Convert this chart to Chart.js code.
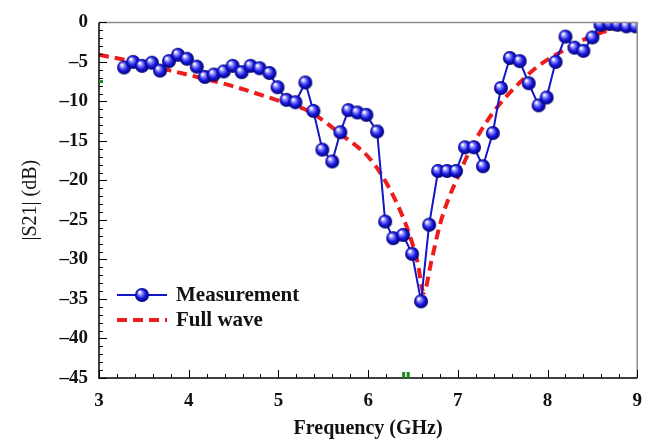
<!DOCTYPE html>
<html>
<head>
<meta charset="utf-8">
<script src="https://cdn.jsdelivr.net/npm/chart.js@4.4.1/dist/chart.umd.min.js"></script>
<style>
    html, body { margin: 0; padding: 0; background: #fff; }
    #wrap { width: 654px; height: 439px; }
</style>
</head>
<body>
<div id="wrap"><canvas id="s21-chart" width="654" height="439"></canvas></div>
<script>
// measured points (GHz, dB)
const measFreq = [3.28, 3.38, 3.48, 3.59, 3.68, 3.78, 3.88, 3.98, 4.09, 4.18,
    4.28, 4.39, 4.49, 4.59, 4.69, 4.79, 4.90, 4.99, 5.09, 5.19,
    5.30, 5.39, 5.49, 5.60, 5.69, 5.78, 5.88, 5.98, 6.10, 6.19,
    6.28, 6.39, 6.49, 6.59, 6.68, 6.78, 6.88, 6.98, 7.08, 7.18,
    7.28, 7.39, 7.48, 7.58, 7.69, 7.79, 7.90, 7.99, 8.09, 8.20,
    8.30, 8.40, 8.50, 8.59, 8.69, 8.78, 8.88, 8.98];
const measS21 = [-5.7, -5.0, -5.5, -5.1, -6.1, -4.9, -4.1, -4.6, -5.6, -6.9,
    -6.6, -6.2, -5.5, -6.3, -5.5, -5.8, -6.4, -8.2, -9.8, -10.1,
    -7.6, -11.2, -16.1, -17.6, -13.9, -11.1, -11.4, -11.7, -13.8, -25.2,
    -27.3, -26.9, -29.3, -35.3, -25.6, -18.8, -18.8, -18.8, -15.8, -15.8,
    -18.2, -14.0, -8.3, -4.5, -4.9, -7.7, -10.5, -9.5, -5.0, -1.8,
    -3.2, -3.6, -1.9, -0.3, -0.2, -0.3, -0.5, -0.5];

// full wave simulation
const simFreq = [3.0, 3.4, 3.8, 4.2, 4.5, 5.0, 5.35, 5.7, 6.0, 6.15,
    6.3, 6.45, 6.55, 6.62, 6.7, 6.8, 6.9, 7.0, 7.1, 7.2,
    7.4, 7.7, 7.9, 8.2, 8.5, 8.75, 9.0];
const simS21 = [-4.1, -5.0, -6.1, -7.2, -8.1, -9.9, -11.3, -14.2, -17.0, -19.3,
    -22.4, -26.5, -30.3, -34.2, -30.5, -25.6, -22.2, -19.6, -17.0, -14.8,
    -11.3, -7.5, -5.5, -3.4, -1.7, -0.8, -0.4];

const xTicks = [3, 4, 5, 6, 7, 8, 9];
const yTicks = [0, -5, -10, -15, -20, -25, -30, -35, -40, -45];

const serif = "'Liberation Serif', 'Times New Roman', serif";

function makeBall(r) {
    const c = document.createElement('canvas');
    c.width = c.height = r * 2 + 2;
    const g = c.getContext('2d');
    const cx = r + 1, cy = r + 1;
    const grad = g.createRadialGradient(cx - r * 0.35, cy - r * 0.4, r * 0.1, cx, cy, r);
    grad.addColorStop(0, '#ffffff');
    grad.addColorStop(0.25, '#8a8aff');
    grad.addColorStop(0.6, '#1a1ae0');
    grad.addColorStop(1, '#00006a');
    g.fillStyle = grad;
    g.beginPath();
    g.arc(cx, cy, r, 0, Math.PI * 2);
    g.fill();
    return c;
}
const ball = makeBall(7);

// inward ticks, frame, legend and the small green marks
const framePlugin = {
    id: 'frame',
    afterDraw(chart) {
        const ctx = chart.ctx;
        const a = chart.chartArea;
        const xs = chart.scales.x, ys = chart.scales.y;
        ctx.save();
        ctx.lineWidth = 1.5;
        ctx.strokeStyle = '#8c8c8c';
        ctx.beginPath();
        ctx.moveTo(a.left, a.top);
        ctx.lineTo(a.right, a.top);
        ctx.lineTo(a.right, a.bottom);
        ctx.stroke();

        ctx.strokeStyle = '#000';
        ctx.beginPath();
        ctx.moveTo(a.left, a.top);
        ctx.lineTo(a.left, a.bottom);
        ctx.lineTo(a.right, a.bottom);
        ctx.stroke();

        ctx.lineWidth = 1;
        ctx.beginPath();
        for (let v = 3; v <= 9.001; v += 0.2) {
            const px = Math.round(xs.getPixelForValue(v)) + 0.5;
            const major = Math.abs(v - Math.round(v)) < 0.01;
            ctx.moveTo(px, a.bottom);
            ctx.lineTo(px, a.bottom - (major ? 8 : 4));
        }
        for (let v = 0; v >= -45; v -= 1) {
            const py = Math.round(ys.getPixelForValue(v)) + 0.5;
            const major = v % 5 === 0;
            ctx.moveTo(a.left, py);
            ctx.lineTo(a.left + (major ? 8 : 4), py);
        }
        ctx.stroke();

        ctx.fillStyle = '#1a8a1a';
        ctx.fillRect(a.left, ys.getPixelForValue(-7.3), 4, 3);
        ctx.fillRect(xs.getPixelForValue(6.38), a.bottom - 6, 3, 6);
        ctx.fillRect(xs.getPixelForValue(6.43), a.bottom - 6, 3, 6);

        // legend
        const lx = 117, lx2 = 167;
        ctx.strokeStyle = '#1414c8';
        ctx.lineWidth = 2;
        ctx.beginPath();
        ctx.moveTo(lx, 295);
        ctx.lineTo(lx2, 295);
        ctx.stroke();
        ctx.drawImage(ball, (lx + lx2) / 2 - 8, 295 - 8);

        ctx.strokeStyle = '#ee1c1c';
        ctx.lineWidth = 4;
        ctx.setLineDash([10, 6]);
        ctx.beginPath();
        ctx.moveTo(lx, 320);
        ctx.lineTo(lx2, 320);
        ctx.stroke();
        ctx.setLineDash([]);

        ctx.fillStyle = '#111';
        ctx.font = 'bold 21px ' + serif;
        ctx.textBaseline = 'middle';
        ctx.fillText('Measurement', 176, 296);
        ctx.fillText('Full wave', 176, 321);
        ctx.restore();
    }
};

const measData = measFreq.map((f, i) => ({x: f, y: measS21[i]}));
const simData = simFreq.map((f, i) => ({x: f, y: simS21[i]}));

new Chart(document.getElementById('s21-chart'), {
    type: 'line',
    data: {
        datasets: [
            {
                label: 'Full wave',
                data: simData,
                borderColor: '#ee1c1c',
                borderWidth: 4,
                borderDash: [10, 6],
                pointRadius: 0,
                cubicInterpolationMode: 'monotone',
                order: 2
            },
            {
                label: 'Measurement',
                data: measData,
                borderColor: '#1414c8',
                borderWidth: 2,
                pointStyle: ball,
                pointRadius: 7,
                tension: 0,
                order: 1
            }
        ]
    },
    options: {
        responsive: false,
        animation: false,
        events: [],
        layout: {padding: {top: 19, right: 16, left: 0, bottom: 0}},
        plugins: {
            legend: {display: false},
            tooltip: {enabled: false}
        },
        scales: {
            x: {
                type: 'linear',
                min: 3,
                max: 9,
                afterBuildTicks: (scale) => { scale.ticks = xTicks.map(v => ({value: v})); },
                afterFit: (scale) => { scale.height = 61; },
                grid: {display: false, drawTicks: false},
                border: {display: false},
                ticks: {
                    padding: 12,
                    color: '#111',
                    font: {family: serif, size: 19, weight: 'bold'}
                },
                title: {
                    display: true,
                    text: 'Frequency (GHz)',
                    color: '#111',
                    padding: {top: 0, bottom: 0},
                    font: {family: serif, size: 20, weight: 'bold', lineHeight: 1}
                }
            },
            y: {
                min: -45,
                max: 0,
                afterBuildTicks: (scale) => { scale.ticks = yTicks.map(v => ({value: v})); },
                afterFit: (scale) => { scale.width = 99; },
                grid: {display: false, drawTicks: false},
                border: {display: false},
                ticks: {
                    padding: 11,
                    color: '#111',
                    font: {family: serif, size: 19, weight: 'bold'},
                    callback: (v) => String(v).replace('-', '\u2013')
                },
                title: {
                    display: true,
                    text: '|S21| (dB)',
                    color: '#111',
                    padding: {top: 21, bottom: 0},
                    font: {family: serif, size: 20, weight: 'normal', lineHeight: 1}
                }
            }
        }
    },
    plugins: [framePlugin]
});
</script>
</body>
</html>
